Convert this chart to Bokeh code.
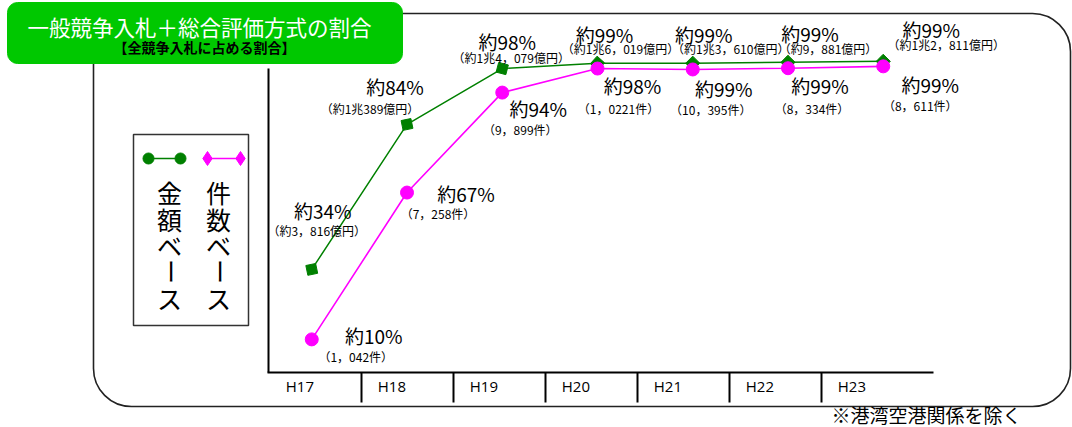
import math
from bokeh.plotting import figure
from bokeh.models import Range1d, ColumnDataSource, BoxAnnotation
from bokeh.core.properties import value
from bokeh.embed import file_html
from bokeh.resources import INLINE

# ---------------- data ----------------
years = ["H17", "H18", "H19", "H20", "H21", "H22", "H23"]
# plotted positions (percent)
amount_pct = [33.0, 79.4, 97.3, 99.0, 99.0, 99.3, 99.6]   # 金額ベース
count_pct = [10.6, 57.6, 89.6, 97.3, 97.0, 97.4, 98.0]    # 件数ベース
amount_labels = ["約34%", "約84%", "約98%", "約99%", "約99%", "約99%", "約99%"]
amount_sub = ["（約3，816億円）", "（約1兆389億円）", "（約1兆4，079億円）", "（約1兆6，019億円）",
              "（約1兆3，610億円）", "（約9，881億円）", "（約1兆2，811億円）"]
count_labels = ["約10%", "約67%", "約94%", "約98%", "約99%", "約99%", "約99%"]
count_sub = ["（1，042件）", "（7，258件）", "（9，899件）", "（1，0221件）",
             "（10，395件）", "（8，334件）", "（8，611件）"]
title_text = "一般競争入札＋総合評価方式の割合"
subtitle_text = "【全競争入札に占める割合】"
legend_amount = "金額ベース"
legend_count = "件数ベース"
note_text = "※港湾空港関係を除く"

# ---------------- layout / style ----------------
JP = "Noto Sans CJK JP"
GREEN = "#008000"
MAGENTA = "#ff00ff"
W, H = 1072, 427
X0, DX = 311.25, 95.25     # px of first category, px per category
Y0, DY = 372.0, 3.124      # px of 0 %, px per %
C0, CW = 269.0, 92.0       # category strip cells

# label offsets (px) relative to the points
a_dx = [11, -12, 5, 7, 11, 22, 48]
a_dy = [-59, -38, -27, -29, -29, -29, -32]
as_dx = [5, -37, 9, 23, 38, 40, 63]
as_dy = [-39, -16, -11, -15, -15, -14, -17]
c_dx = [62, 59, 36, 35, 31, 32, 47]
c_dy = [-4, 1, 16, 17, 19, 17, 18]
cs_dx = [44, 31, 18, 21, 18, 24, 37]
cs_dy = [17, 21, 37, 40, 40, 40, 39]

p = figure(width=W, height=H, output_backend="svg", toolbar_location=None,
           x_range=Range1d(0, W), y_range=Range1d(H, 0),
           x_axis_location=None, y_axis_location=None,
           min_border=0, outline_line_color=None,
           background_fill_color="white", border_fill_color="white")
p.grid.visible = False
p.extra_x_ranges = {"ix": Range1d((0 - X0) / DX, (W - X0) / DX),
                    "cell": Range1d((0 - C0) / CW, (W - C0) / CW)}
p.extra_y_ranges = {"pct": Range1d((Y0 - H) / DY, Y0 / DY)}

# ---------------- frames ----------------
p.add_layout(BoxAnnotation(left=93, right=1070, top=13, bottom=406, fill_alpha=0,
                           line_color="#222222", line_alpha=1, line_width=1.6,
                           border_radius=38, level="underlay"))
p.add_layout(BoxAnnotation(left=7, right=402, top=2, bottom=63, fill_color="#00c800",
                           fill_alpha=1, line_color="#00c800", line_alpha=1, line_width=1,
                           border_radius=10, level="underlay"))
p.add_layout(BoxAnnotation(left=133, right=248, top=134, bottom=325, fill_color="white",
                           fill_alpha=1, line_color="#333333", line_alpha=1, line_width=1.5,
                           level="underlay"))

p.text(x=[199], y=[26], text=[title_text], text_font=value(JP), text_font_size="21.5px",
       text_color="white", text_align="center", text_baseline="middle")
p.text(x=[204], y=[46], text=[subtitle_text], text_font=value(JP), text_font_size="14px",
       text_font_style="bold", text_color="black", text_align="center", text_baseline="middle")

# ---------------- axes ----------------
p.line(x=[268, 268], y=[68, 372], line_color="black", line_width=2)
p.line(x=[267, 933], y=[372, 372], line_color="black", line_width=2)
n = len(years)
p.segment(x0=list(range(1, n)), x1=list(range(1, n)), y0=[372] * (n - 1), y1=[402] * (n - 1),
          x_range_name="cell", line_color="black", line_width=2)
p.text(x=[k + 0.33 for k in range(n)], y=[385] * n, text=years, x_range_name="cell",
       text_font=value("Open Sans"), text_font_size="15px", text_color="black",
       text_align="center", text_baseline="middle")

# ---------------- series ----------------
ang = []
for k in range(n):
    a, b = (k - 1, k) if k > 0 else (0, 1)
    ang.append(math.atan2((amount_pct[b] - amount_pct[a]) * DY, DX) + math.pi / 4)

src = ColumnDataSource(dict(i=list(range(n)), amt=amount_pct, cnt=count_pct, ang=ang,
                            al=amount_labels, asub=amount_sub, cl=count_labels, csub=count_sub,
                            a_dx=a_dx, a_dy=a_dy, as_dx=as_dx, as_dy=as_dy,
                            c_dx=c_dx, c_dy=c_dy, cs_dx=cs_dx, cs_dy=cs_dy))
kw = dict(source=src, x_range_name="ix", y_range_name="pct")
p.line(x="i", y="amt", line_color=GREEN, line_width=1.5, **kw)
p.scatter(x="i", y="amt", marker="square", size=10, angle="ang",
          fill_color=GREEN, line_color=GREEN, **kw)
p.line(x="i", y="cnt", line_color=MAGENTA, line_width=1.6, **kw)
p.scatter(x="i", y="cnt", marker="circle", size=13, fill_color=MAGENTA, line_color=MAGENTA, **kw)

big = dict(text_font=value(JP), text_font_size="19px", text_color="black",
           text_align="center", text_baseline="middle")
small = dict(text_font=value(JP), text_font_size="12px", text_color="black",
             text_align="center", text_baseline="middle")
p.text(x="i", y="amt", text="al", x_offset="a_dx", y_offset="a_dy", **big, **kw)
p.text(x="i", y="amt", text="asub", x_offset="as_dx", y_offset="as_dy", **small, **kw)
p.text(x="i", y="cnt", text="cl", x_offset="c_dx", y_offset="c_dy", **big, **kw)
p.text(x="i", y="cnt", text="csub", x_offset="cs_dx", y_offset="cs_dy", **small, **kw)

# ---------------- legend ----------------
p.line(x=[148, 180], y=[158, 158], line_color=GREEN, line_width=1.5)
p.scatter(x=[148, 180], y=[158, 158], marker="circle", size=11, fill_color=GREEN, line_color=GREEN)
p.line(x=[207, 240], y=[158, 158], line_color=MAGENTA, line_width=1.5)
p.scatter(x=[207, 240], y=[158, 158], marker="diamond", size=14, fill_color=MAGENTA,
          line_color=MAGENTA)

def vertical(label, xc):
    chars = list(label)
    ys = [191.5 + 26.5 * k for k in range(len(chars))]
    angles = [math.pi / 2 if c == "ー" else 0 for c in chars]
    p.text(x=[xc] * len(chars), y=ys, text=chars, angle=angles, text_font=value(JP),
           text_font_size="25px", text_color="black", text_align="center",
           text_baseline="middle")

vertical(legend_amount, 169)
vertical(legend_count, 218)

# ---------------- note ----------------
p.text(x=[926], y=[414], text=[note_text], text_font=value(JP), text_font_size="19px",
       text_color="black", text_align="center", text_baseline="middle")

open("out.html", "w").write(file_html(p, INLINE))
